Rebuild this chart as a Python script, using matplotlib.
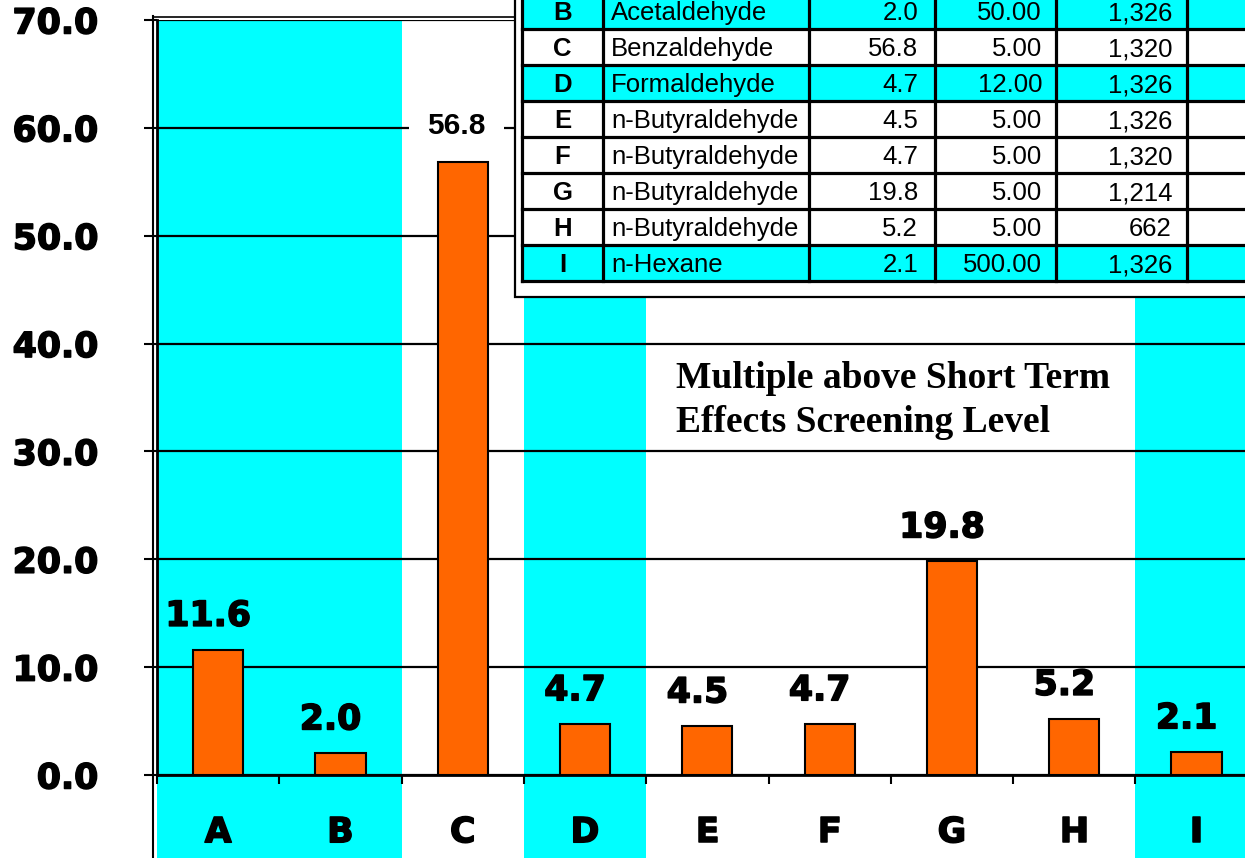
import matplotlib
matplotlib.use("Agg")
import matplotlib.pyplot as plt
import matplotlib.patheffects as pe
from matplotlib.patches import Rectangle
from matplotlib.lines import Line2D

# ---------------- data ----------------
categories = ["A", "B", "C", "D", "E", "F", "G", "H", "I"]
values = [11.6, 2.0, 56.8, 4.7, 4.5, 4.7, 19.8, 5.2, 2.1]
highlight = [True, True, False, True, False, False, False, False, True]
yticks = [0, 10, 20, 30, 40, 50, 60, 70]

table_letters = ["B", "C", "D", "E", "F", "G", "H", "I"]
table_chemicals = ["Acetaldehyde", "Benzaldehyde", "Formaldehyde", "n-Butyraldehyde",
                   "n-Butyraldehyde", "n-Butyraldehyde", "n-Butyraldehyde", "n-Hexane"]
table_multiple = ["2.0", "56.8", "4.7", "4.5", "4.7", "19.8", "5.2", "2.1"]
table_level = ["50.00", "5.00", "12.00", "5.00", "5.00", "5.00", "5.00", "500.00"]
table_count = ["1,326", "1,320", "1,326", "1,326", "1,320", "1,214", "662", "1,326"]
table_highlight = [True, False, True, False, False, False, False, True]

title_lines = ["Multiple above Short Term", "Effects Screening Level"]

# ---------------- style ----------------
W, H = 1245, 858
CYAN = "#00FFFF"
ORANGE = "#FF6600"
heavy = [pe.withStroke(linewidth=1.1, foreground="black")]

def fx(x):
    return x / W

def fy(y):
    return 1 - y / H

fig = plt.figure(figsize=(W / 100, H / 100), dpi=100)
fig.patch.set_facecolor("white")

cat_w = 122.3
ax_left, ax_top, ax_bottom = 157, 20, 775
ax = fig.add_axes([fx(ax_left), fy(ax_bottom), len(categories) * cat_w / W,
                   (ax_bottom - ax_top) / H])
ax.set_xlim(-0.5, len(categories) - 0.5)
ax.set_ylim(0, 70)
ax.set_facecolor("none")

# cyan bands (extend below the axis)
for i, h in enumerate(highlight):
    if h:
        ax.axvspan(i - 0.5, i + 0.5, ymin=-0.2, ymax=1.0, color=CYAN, lw=0,
                   zorder=0.1, clip_on=False)

ax.set_axisbelow(True)
ax.yaxis.grid(True, color="black", lw=1.6)
ax.xaxis.grid(False)

xs = list(range(len(categories)))
ax.bar(xs, values, width=0.41, color=ORANGE, edgecolor="black", lw=1.5, zorder=3)

# value labels
imax = values.index(max(values))
for i, v in enumerate(values):
    if i == imax:
        ax.annotate(f"{v:.1f}", (i, v), xytext=(-6, 28), textcoords="offset pixels",
                    ha="center", va="baseline", fontsize=21.5, fontweight="bold",
                    family="Liberation Sans", zorder=2.5,
                    bbox=dict(boxstyle="square,pad=0.62", fc="white", ec="none"))
    else:
        ax.annotate(f"{v:.1f}", (i, v), xytext=(-10, 24), textcoords="offset pixels",
                    ha="center", va="baseline", fontsize=25, fontweight="bold",
                    family="DejaVu Sans", zorder=4, path_effects=heavy)

# spines
for s in ["top", "right"]:
    ax.spines[s].set_visible(False)
ax.spines["left"].set_linewidth(2)
ax.spines["bottom"].set_linewidth(2)
ax.spines["bottom"].set_zorder(4)

# y ticks
ax.set_yticks(yticks)
ax.set_yticklabels([f"{v:.1f}" for v in yticks], fontsize=25, fontweight="bold",
                   family="DejaVu Sans")
ax.tick_params(axis="y", direction="out", length=13 * 0.72, width=1.5, pad=33)
for t in ax.get_yticklabels():
    t.set_path_effects(heavy)

# x ticks: boundaries (major), labels at centres (minor)
ax.set_xticks([i - 0.5 for i in xs])
ax.set_xticklabels([])
ax.tick_params(axis="x", which="major", direction="out", length=9 * 0.72, width=1.5)
ax.set_xticks(xs, minor=True)
ax.set_xticklabels(categories, minor=True, fontsize=25, fontweight="bold",
                   family="DejaVu Sans")
ax.tick_params(axis="x", which="minor", length=0, pad=29)
for t in ax.get_xticklabels(minor=True):
    t.set_path_effects(heavy)

# outer plot-area frame lines
fig.add_artist(Line2D([fx(153), fx(153)], [fy(16), fy(H + 5)], color="black", lw=1.5))
fig.add_artist(Line2D([fx(153), fx(W + 5)], [fy(16.5), fy(16.5)], color="black", lw=1.2))

# title text
fig.text(fx(676), fy(388), title_lines[0], fontsize=27, fontweight="bold",
         family="Liberation Serif", ha="left", va="baseline")
fig.text(fx(676), fy(432), title_lines[1], fontsize=27, fontweight="bold",
         family="Liberation Serif", ha="left", va="baseline")

# ---------------- table ----------------
tf = fig.transFigure
fig.add_artist(Rectangle((fx(515), fy(297)), fx(800), (297 + 30) / H, transform=tf,
                         fc="white", ec="black", lw=1.6, zorder=5))
col_edges = [522, 603, 809, 935, 1056, 1187, 1330]
row_h = 36
row_top0 = 29.3 - row_h
nrows = len(table_letters)
for r in range(nrows):
    top = row_top0 + r * row_h
    bot = top + row_h
    fc = CYAN if table_highlight[r] else "white"
    fig.add_artist(Rectangle((fx(col_edges[0]), fy(bot)), fx(col_edges[-1] - col_edges[0]),
                             row_h / H, transform=tf, fc=fc, ec="none", zorder=6))
    yc = fy((top + bot) / 2 + 2)
    kw = dict(fontsize=18.5, family="Liberation Sans", va="center", zorder=8)
    fig.text(fx((col_edges[0] + col_edges[1]) / 2), yc, table_letters[r], ha="center",
             fontweight="bold", **kw)
    fig.text(fx(col_edges[1] + 8), yc, table_chemicals[r], ha="left", **kw)
    fig.text(fx(col_edges[3] - 17), yc, table_multiple[r], ha="right", **kw)
    fig.text(fx(col_edges[4] - 14), yc, table_level[r], ha="right", **kw)
    fig.text(fx(col_edges[5] - 15), yc, table_count[r], ha="right", **kw)

tbl_top = row_top0
tbl_bot = row_top0 + nrows * row_h
for r in range(nrows + 1):
    y = row_top0 + r * row_h
    fig.add_artist(Line2D([fx(col_edges[0]), fx(col_edges[-1])], [fy(y), fy(y)],
                          color="black", lw=2.3, zorder=7))
for x in col_edges[:-1]:
    fig.add_artist(Line2D([fx(x), fx(x)], [fy(tbl_top), fy(tbl_bot)],
                          color="black", lw=2.3, zorder=7))

fig.savefig("out.png", dpi=100, facecolor="white")
